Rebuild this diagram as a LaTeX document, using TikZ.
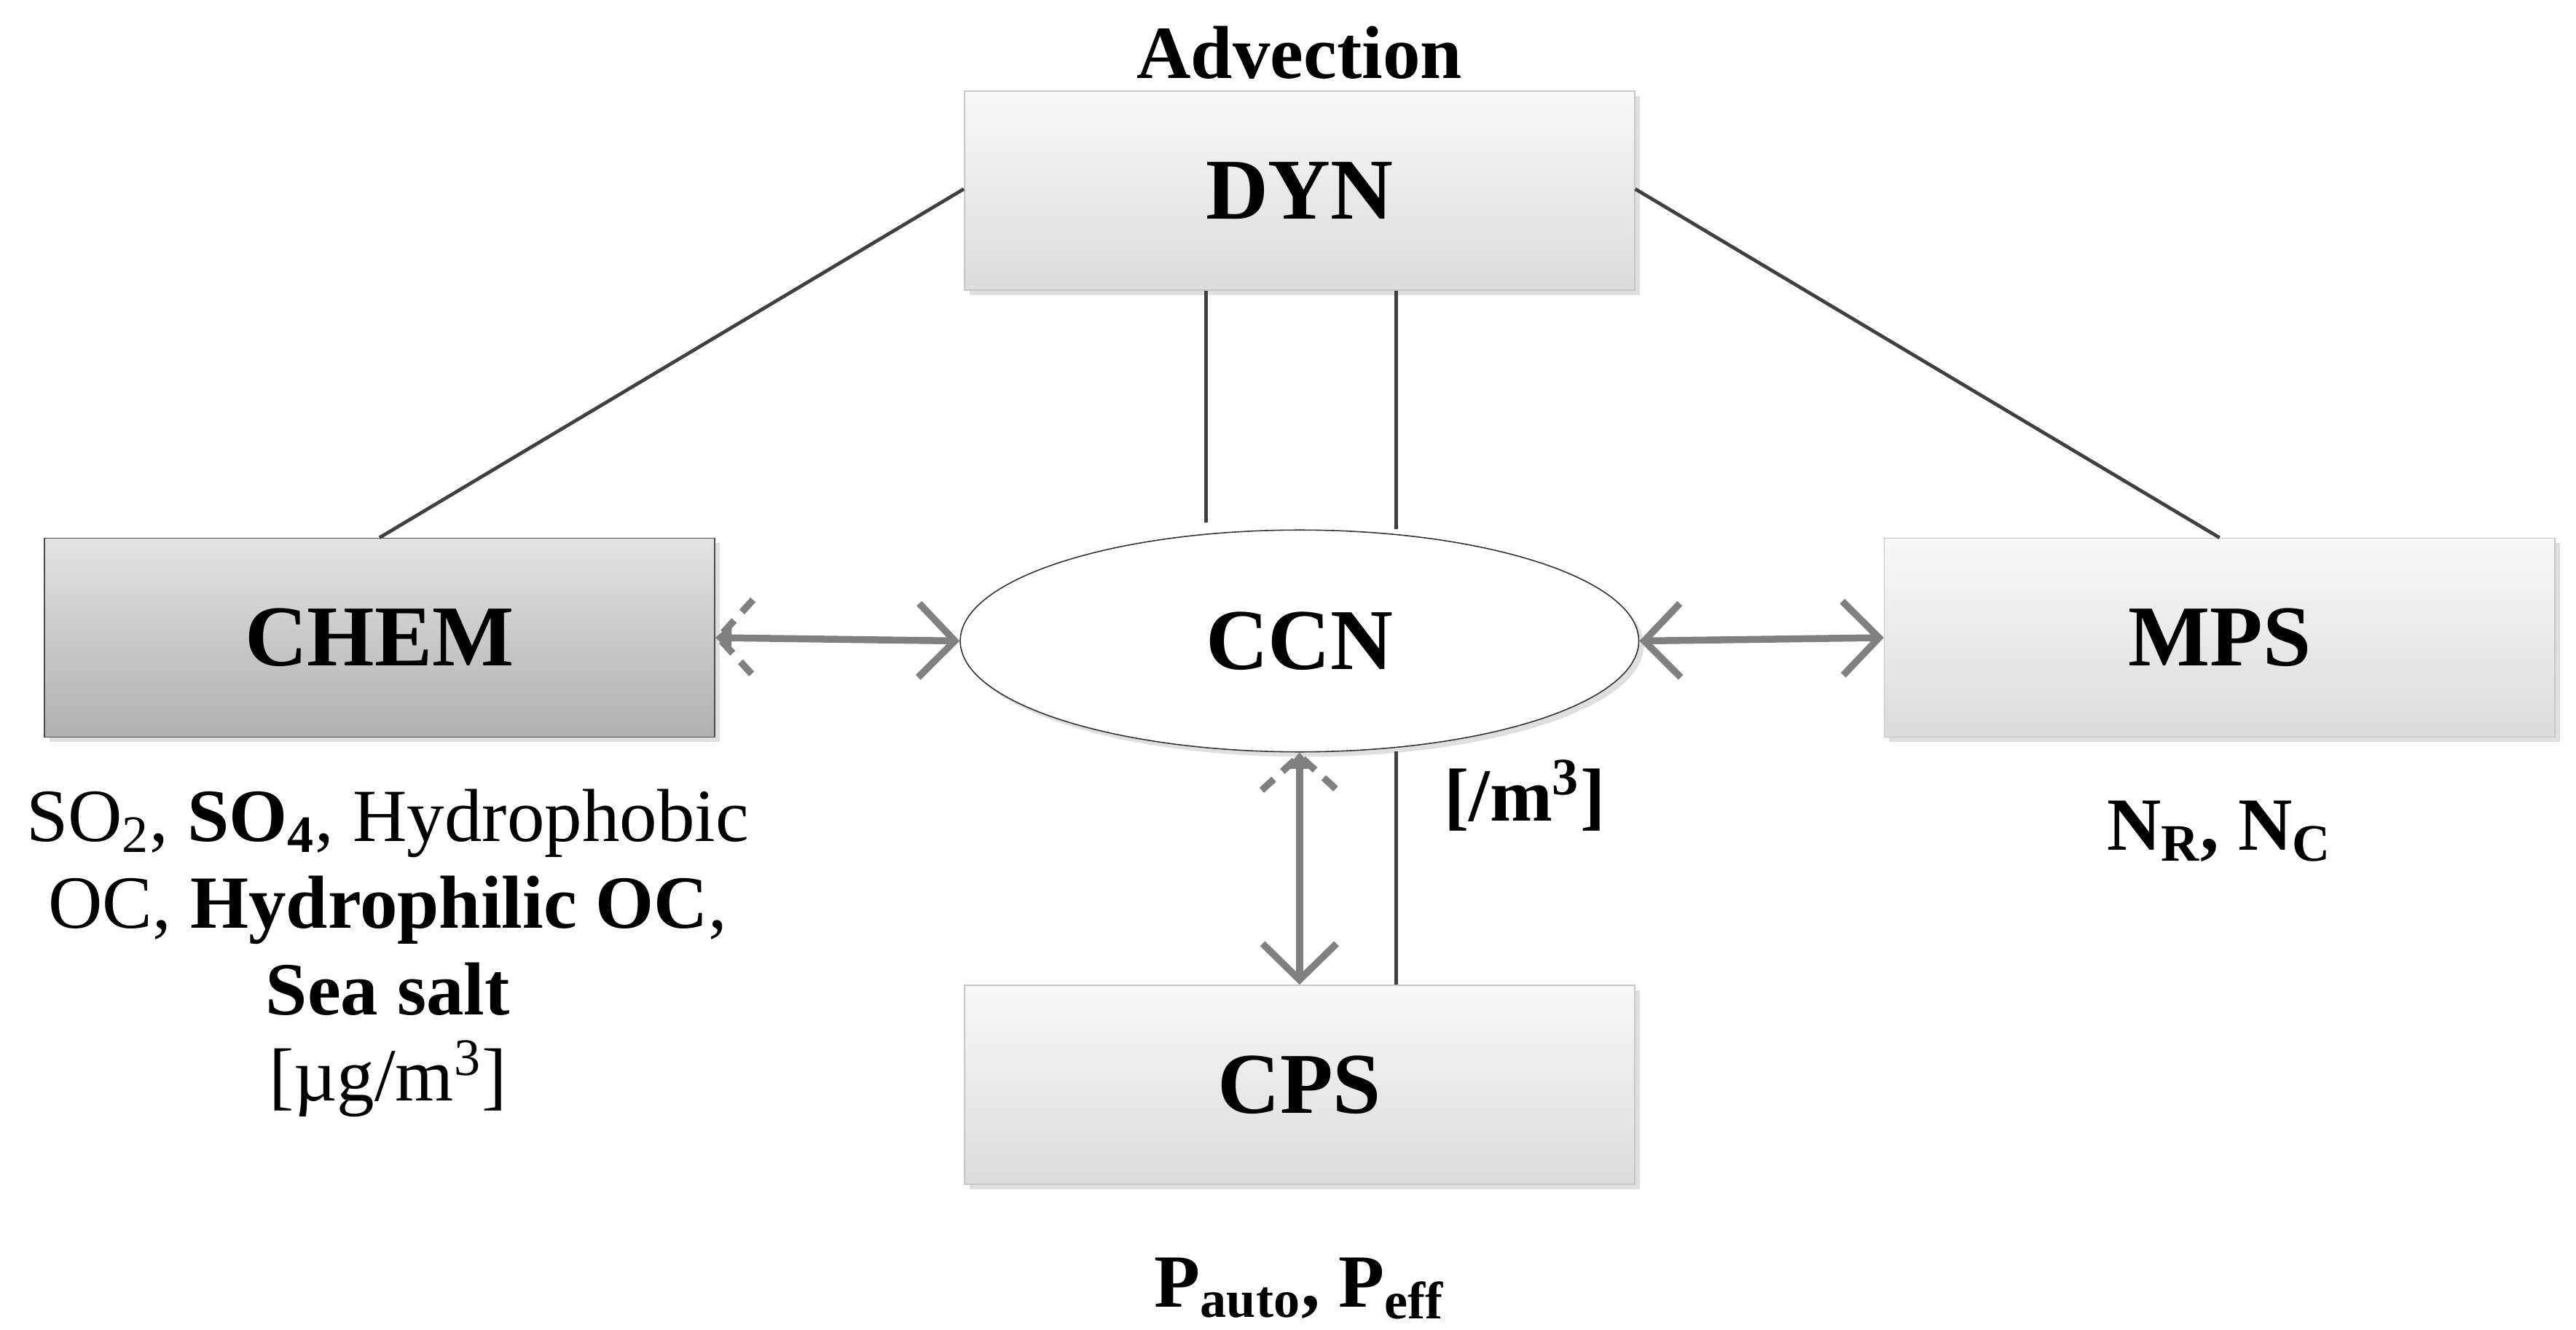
\documentclass[tikz,border=0pt]{standalone}
\usepackage{fontspec}
\setmainfont{Liberation Serif}
\usetikzlibrary{arrows.meta,shadows,calc,shapes.geometric}

\tikzset{
    box/.style={draw=gray!45, minimum width=8.16cm, minimum height=2.42cm,
        top color=gray!6, bottom color=gray!28, font=\fontsize{30}{34}\selectfont\bfseries,
        drop shadow={opacity=0.25, shadow xshift=0.06cm, shadow yshift=-0.06cm}},
    label/.style={font=\fontsize{26}{30}\selectfont, align=center},
    link/.style={draw=black!75, line width=1.2pt},
    flow/.style={draw=gray, color=gray, line width=2.4pt},
    vee/.style={line width=2.4pt, draw=gray},
}

\begin{document}
\begin{tikzpicture}
    \useasboundingbox (0,0) rectangle (31.36,16.18);

    \node[box] (dyn) at (15.82,13.86) {DYN};
    \node[box, draw=black!70, top color=gray!22, bottom color=gray!62] (chem) at (4.62,8.42) {CHEM};
    \node[box] (mps) at (27.02,8.42) {MPS};
    \node[box] (cps) at (15.82,2.98) {CPS};
    \node[ellipse, draw=black!80, fill=white, minimum width=8.26cm, minimum height=2.7cm,
        font=\fontsize{30}{34}\selectfont\bfseries,
        drop shadow={opacity=0.25, shadow xshift=0.06cm, shadow yshift=-0.06cm}] (ccn) at (15.82,8.38) {CCN};

    \node[label, font=\fontsize{26}{30}\selectfont\bfseries] (adv) at (15.82,15.54) {Advection};

    % links to DYN
    \draw[link] ($(dyn.west)+(0,0.02)$) -- (chem.north);
    \draw[link] ($(dyn.east)+(0,0.02)$) -- (mps.north);
    \draw[link] (14.68,12.64) -- (14.68,9.82);
    \draw[link] (17.0,12.64) -- (17.0,9.74);
    \draw[link] (17.0,7.04) -- (17.0,0 |- cps.north);

    % exchanges with CCN
    \draw[flow, {Triangle[length=0.2cm,width=0.34cm]}-{Straight Barb[length=0.44cm,width=0.9cm]}]
        (chem.east) -- (ccn.west);
    \draw[vee, dash pattern=on 0.2cm off 0.14cm] ($(chem.east)+(0.46,0.46)$) -- ($(chem.east)+(0.04,0)$) -- ($(chem.east)+(0.46,-0.46)$);
    \draw[flow, {Straight Barb[length=0.44cm,width=0.9cm]}-{Straight Barb[length=0.44cm,width=0.9cm]}]
        (ccn.east) -- (mps.west);
    \draw[flow, {Triangle[length=0.2cm,width=0.34cm]}-{Straight Barb[length=0.44cm,width=0.9cm]}]
        (ccn.south) -- (cps.north);
    \draw[vee, dash pattern=on 0.2cm off 0.14cm] ($(ccn.south)+(-0.46,-0.46)$) -- ($(ccn.south)+(0,-0.04)$) -- ($(ccn.south)+(0.46,-0.46)$);

    % quantities
    \node[label] (chemq) at (4.72,4.58) {SO\textsubscript{2}, \textbf{SO\textsubscript{4}}, Hydrophobic\\
        OC, \textbf{Hydrophilic OC},\\ \textbf{Sea salt}\\ {[µg/m\textsuperscript{3}]}};
    \node[label, font=\fontsize{26}{30}\selectfont\bfseries] (ccnq) at (18.56,6.5) {[/m\textsuperscript{3}]};
    \node[label, font=\fontsize{26}{30}\selectfont\bfseries] (mpsq) at (27.02,6.06) {N\textsubscript{R}, N\textsubscript{C}};
    \node[label, font=\fontsize{26}{30}\selectfont\bfseries] (cpsq) at (15.82,0.5) {P\textsubscript{auto}, P\textsubscript{eff}};
\end{tikzpicture}
\end{document}
